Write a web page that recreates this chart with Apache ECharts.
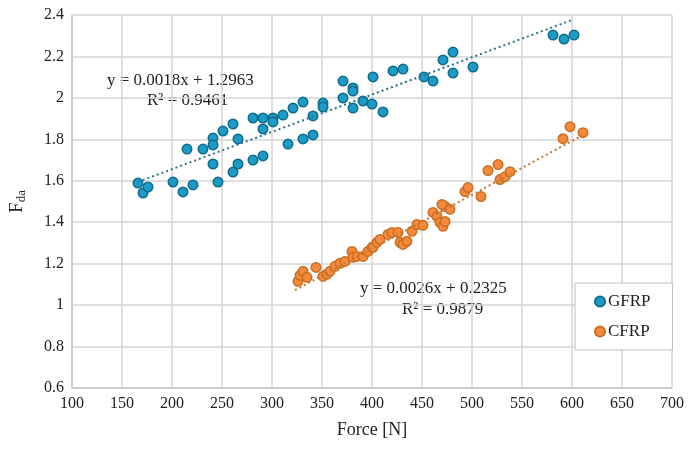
<!DOCTYPE html>
<html lang="en">
<head>
  <meta charset="UTF-8">
  <title>Fda vs Force</title>
  <script src="https://cdn.jsdelivr.net/npm/echarts@6/dist/echarts.min.js"></script>
</head>
<body style="margin:0">
  <div id="main" style="width:689px;height:455px;background:#fff;"></div>
  <script>
    // GFRP points [force, Fda]
    var gfrpData = [
      [166, 1.589], [171, 1.541], [176, 1.570], [201, 1.594], [211, 1.546], [221, 1.580],
      [215, 1.753], [231, 1.753], [241, 1.806], [241, 1.773], [241, 1.681], [246, 1.594],
      [251, 1.840], [261, 1.874], [261, 1.642], [266, 1.681], [266, 1.802], [281, 1.903],
      [291, 1.903], [291, 1.850], [281, 1.700], [291, 1.720], [301, 1.903], [301, 1.884],
      [311, 1.917], [321, 1.951], [331, 1.980], [316, 1.777], [331, 1.802], [341, 1.821],
      [341, 1.913], [351, 1.975], [351, 1.956], [371, 2.081], [371, 2.000], [381, 2.048],
      [381, 2.033], [381, 1.951], [391, 1.985], [400, 1.970], [411, 1.932], [401, 2.101],
      [421, 2.130], [431, 2.139], [452, 2.101], [461, 2.081], [471, 2.183], [481, 2.221],
      [481, 2.120], [501, 2.149], [581, 2.303], [592, 2.284], [602, 2.303]
    ];
    // CFRP points [force, Fda]
    var cfrpData = [
      [326, 1.115], [328, 1.144], [331, 1.163], [335, 1.134], [344, 1.182], [351, 1.139],
      [355, 1.149], [358, 1.163], [363, 1.187], [368, 1.202], [373, 1.211], [380, 1.259],
      [381, 1.231], [385, 1.235], [391, 1.235], [396, 1.259], [400, 1.279], [401, 1.279],
      [405, 1.303], [408, 1.317], [416, 1.341], [420, 1.351], [426, 1.351], [428, 1.303],
      [431, 1.293], [435, 1.308], [440, 1.356], [445, 1.389], [451, 1.385], [461, 1.447],
      [465, 1.428], [468, 1.399], [471, 1.380], [473, 1.404], [473, 1.476], [478, 1.462],
      [470, 1.486], [493, 1.548], [496, 1.567], [509, 1.524], [516, 1.649], [526, 1.678],
      [528, 1.606], [533, 1.620], [538, 1.644], [591, 1.803], [598, 1.861], [611, 1.832]
    ];
    // trend line ends, from the fitted equations
    var gfrpTrend = [[166, 1.595], [600, 2.376]];
    var cfrpTrend = [[323, 1.072], [610, 1.818]];

    var seriesNames = ['GFRP', 'CFRP'];
    var gfrpText = ['y = 0.0018x + 1.2963', 'R\u00b2 = 0.9461'];
    var cfrpText = ['y = 0.0026x + 0.2325', 'R\u00b2 = 0.9879'];

    var font = 'Liberation Serif';
    var chart = echarts.init(document.getElementById('main'));

    var option = {
      animation: false,
      textStyle: { fontFamily: font },
      grid: { left: 72, right: 17, top: 15, bottom: 67 },
      legend: {
        data: seriesNames,
        orient: 'vertical',
        left: 575,
        top: 283,
        padding: [10, 22, 10, 19],
        itemGap: 13,
        itemWidth: 10,
        itemHeight: 10,
        backgroundColor: '#fff',
        borderColor: '#c0c0c0',
        borderWidth: 1,
        textStyle: { fontFamily: font, fontSize: 17, color: '#222', padding: [0, 0, 0, -2] }
      },
      xAxis: {
        type: 'value',
        min: 100, max: 700, interval: 50,
        name: 'Force [N]',
        nameLocation: 'middle',
        nameGap: 33,
        nameTextStyle: { fontFamily: font, fontSize: 18, color: '#222' },
        axisLine: { show: true, lineStyle: { color: '#c8c8c8', width: 1.5 } },
        axisTick: { show: false },
        axisLabel: { fontFamily: font, fontSize: 16, color: '#222', margin: 8 },
        splitLine: { show: true, lineStyle: { color: '#d4d4d4', width: 1.5 } }
      },
      yAxis: {
        type: 'value',
        min: 0.6, max: 2.4, interval: 0.2,
        name: '{a|F}{b|da}',
        nameLocation: 'middle',
        nameGap: 44,
        nameTextStyle: {
          rich: {
            a: { fontFamily: font, fontSize: 19, color: '#222' },
            b: { fontFamily: font, fontSize: 13, color: '#222', verticalAlign: 'bottom', padding: [8, 0, 0, 0] }
          }
        },
        axisLine: { show: true, lineStyle: { color: '#c8c8c8', width: 1.5 } },
        axisTick: { show: false },
        axisLabel: { fontFamily: font, fontSize: 16, color: '#222', margin: 8 },
        splitLine: { show: true, lineStyle: { color: '#d4d4d4', width: 1.5 } }
      },
      graphic: [
        { type: 'text', left: 107, top: 72, style: { text: gfrpText[0], font: '17px "Liberation Serif"', fill: '#222' } },
        { type: 'text', left: 147, top: 92, style: { text: gfrpText[1], font: '17px "Liberation Serif"', fill: '#222' } },
        { type: 'text', left: 360, top: 280, style: { text: cfrpText[0], font: '17px "Liberation Serif"', fill: '#222' } },
        { type: 'text', left: 402, top: 301, style: { text: cfrpText[1], font: '17px "Liberation Serif"', fill: '#222' } }
      ],
      series: [
        {
          name: 'GFRP',
          type: 'scatter',
          data: gfrpData,
          symbolSize: 9.5,
          itemStyle: { color: '#1b9bc6', borderColor: '#0e6c8c', borderWidth: 1.5, opacity: 1 },
          z: 3
        },
        {
          name: 'CFRP',
          type: 'scatter',
          data: cfrpData,
          symbolSize: 9.5,
          itemStyle: { color: '#f58a3c', borderColor: '#c96e22', borderWidth: 1.5, opacity: 1 },
          z: 3
        },
        {
          name: 'GFRP trend',
          type: 'line',
          data: gfrpTrend,
          symbol: 'none',
          lineStyle: { color: '#2b6f8c', width: 2, type: [2, 3] },
          z: 4
        },
        {
          name: 'CFRP trend',
          type: 'line',
          data: cfrpTrend,
          symbol: 'none',
          lineStyle: { color: '#c0782f', width: 2, type: [2, 3] },
          z: 4
        }
      ]
    };
    chart.setOption(option);
  </script>
</body>
</html>
